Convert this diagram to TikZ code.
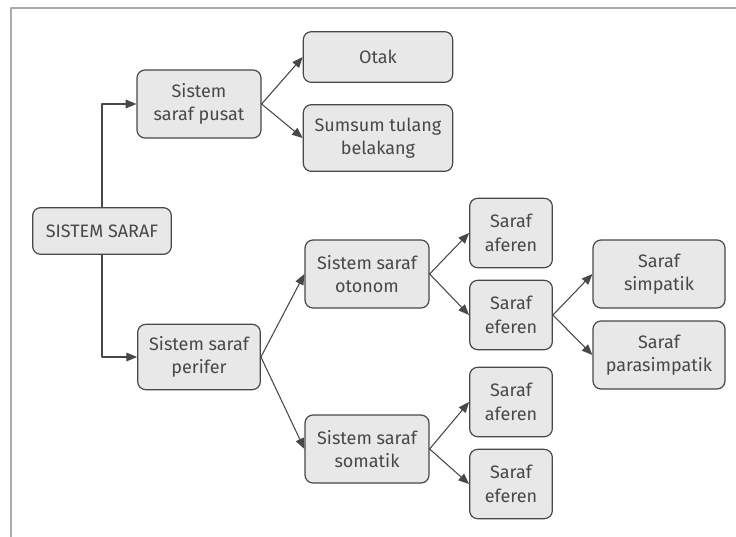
\documentclass[tikz,border=0pt]{standalone}
\usepackage{fontspec}
\setmainfont{Fira Sans}
\usepackage{tikz}
\usetikzlibrary{arrows.meta}
\definecolor{boxfill}{RGB}{232,232,232}
\definecolor{pen}{RGB}{72,72,72}
\definecolor{frame}{RGB}{170,170,170}

\begin{document}
\begin{tikzpicture}[x=0.75pt, y=-0.75pt, line cap=round, line join=round,
    box/.style={draw=pen, fill=boxfill, line width=0.9pt, rounded corners=6pt,
                text=pen, align=center, inner sep=0pt,
                font=\fontsize{13.5}{17.5}\selectfont},
    link/.style={draw=pen, line width=0.8pt, -{Triangle[length=8pt,width=6.5pt]}}]

  %========= page and frame =========
  \useasboundingbox (0,0) rectangle (736,536);
  \draw[frame, line width=1.5pt, line cap=butt] (11,537) -- (11,8) -- (737,8);

  %========= boxes =========
  \node[box, minimum width=104pt, minimum height=35pt] (root)    at (102,231) {SISTEM SARAF};
  \node[box, minimum width=93pt,  minimum height=51pt] (pusat)   at (199,104) {Sistem\\saraf pusat};
  \node[box, minimum width=112pt, minimum height=38pt] (otak)    at (378,57)  {Otak};
  \node[box, minimum width=112pt, minimum height=50pt] (sumsum)  at (378,138) {Sumsum tulang\\belakang};
  \node[box, minimum width=92pt,  minimum height=49pt] (perifer) at (199,357) {Sistem saraf\\perifer};
  \node[box, minimum width=93pt,  minimum height=51pt] (otonom)  at (367,274) {Sistem saraf\\otonom};
  \node[box, minimum width=93pt,  minimum height=51pt] (somatik) at (367,449) {Sistem saraf\\somatik};
  \node[box, minimum width=62pt,  minimum height=52pt] (aferA)   at (511,233) {Saraf\\aferen};
  \node[box, minimum width=62pt,  minimum height=52pt] (eferA)   at (511,315) {Saraf\\eferen};
  \node[box, minimum width=62pt,  minimum height=52pt] (aferB)   at (511,402) {Saraf\\aferen};
  \node[box, minimum width=62pt,  minimum height=52pt] (eferB)   at (511,484) {Saraf\\eferen};
  \node[box, minimum width=99pt,  minimum height=51pt] (simpa)   at (659,274) {Saraf\\simpatik};
  \node[box, minimum width=99pt,  minimum height=51pt] (para)    at (659,355) {Saraf\\parasimpatik};

  %========= connectors =========
  \draw[link] (root.north) |- (pusat.west);
  \draw[link] (root.south) |- (perifer.west);
  \draw[link] (pusat.east) -- (otak.west);
  \draw[link] (pusat.east) -- (sumsum.west);
  \draw[link] (perifer.east) -- (otonom.west);
  \draw[link] (perifer.east) -- (somatik.west);
  \draw[link] (otonom.east) -- (aferA.west);
  \draw[link] (otonom.east) -- (eferA.west);
  \draw[link] (eferA.east) -- (simpa.west);
  \draw[link] (eferA.east) -- (para.west);
  \draw[link] (somatik.east) -- (aferB.west);
  \draw[link] (somatik.east) -- (eferB.west);
\end{tikzpicture}
\end{document}
